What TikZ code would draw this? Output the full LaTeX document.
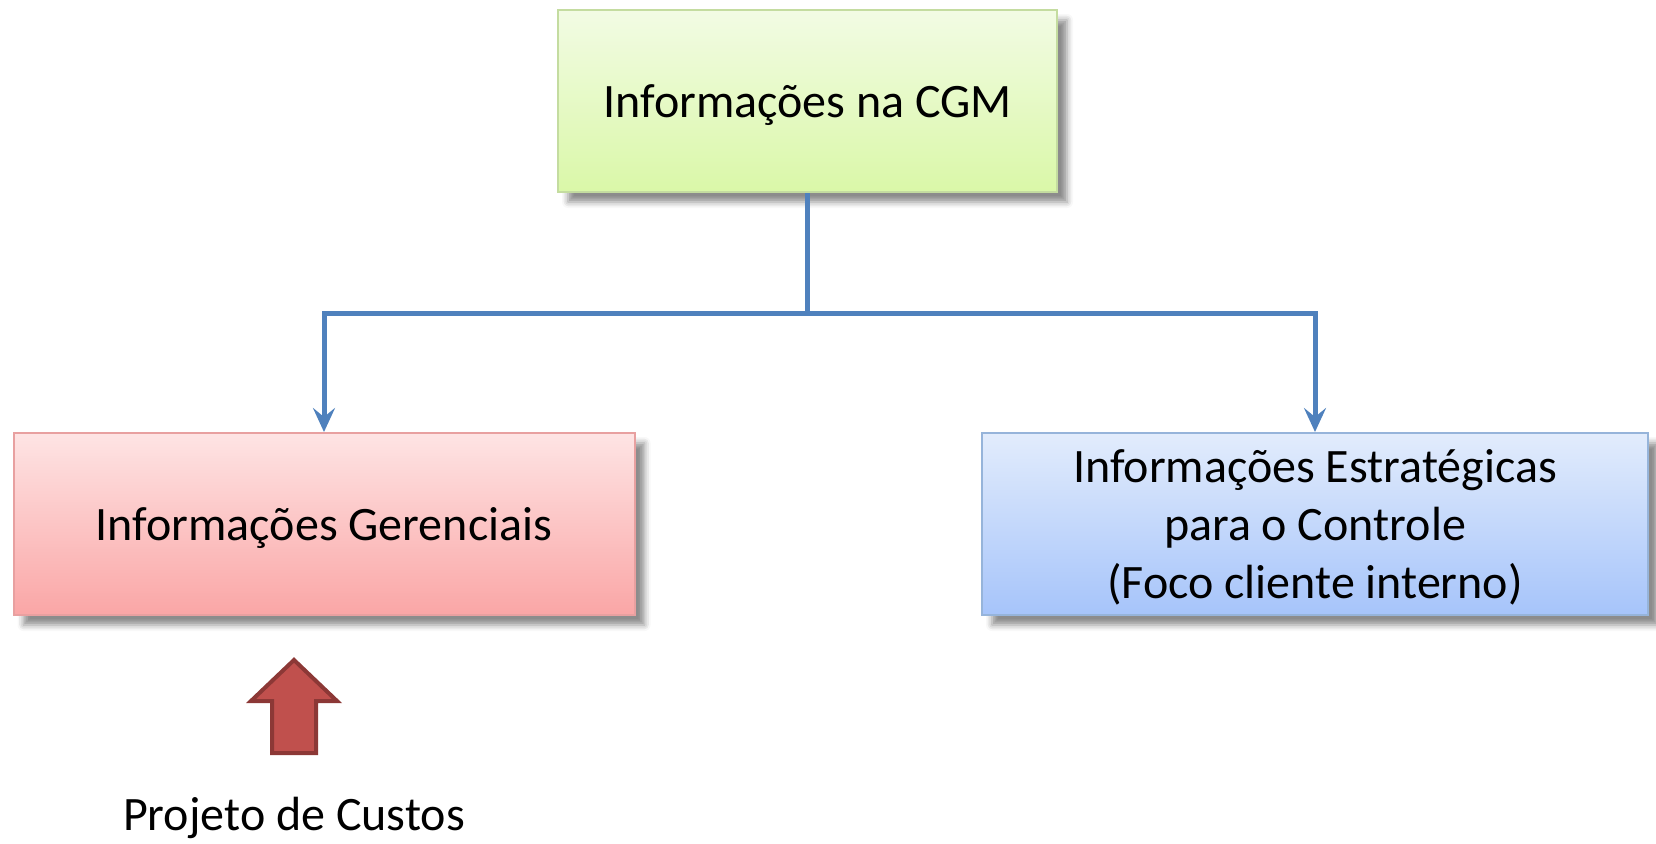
\documentclass[tikz,border=0pt]{standalone}
\usepackage{fontspec}
\setmainfont{Carlito}
\usetikzlibrary{shadows.blur}
\usetikzlibrary{arrows.meta}
\usepackage{xcolor}

\definecolor{cgmtop}{RGB}{242,251,228}
\definecolor{cgmbot}{RGB}{218,248,168}
\definecolor{cgmline}{RGB}{196,220,160}
\definecolor{gertop}{RGB}{254,228,228}
\definecolor{gerbot}{RGB}{250,166,166}
\definecolor{gerline}{RGB}{232,160,160}
\definecolor{esttop}{RGB}{226,236,252}
\definecolor{estbot}{RGB}{166,196,250}
\definecolor{estline}{RGB}{150,180,218}
\definecolor{linkblue}{RGB}{79,129,189}
\definecolor{arrowfill}{RGB}{192,80,77}
\definecolor{arrowline}{RGB}{140,56,54}

\tikzset{
  infobox/.style={rectangle, minimum height=182pt, line width=2pt, align=center,
    inner sep=0pt, text depth=0pt, font=\fontsize{48}{58}\selectfont,
    blur shadow={shadow xshift=10pt, shadow yshift=-10pt, shadow blur radius=6pt, shadow opacity=45}},
  link/.style={draw=linkblue, line width=5pt, -{Stealth[length=24pt, width=22pt, inset=9pt]}},
}

\begin{document}
\begin{tikzpicture}[x=1pt,y=1pt,yscale=-1,xscale=1]
\useasboundingbox (0,0) rectangle (1656,843);

% Text Node
\node [infobox, minimum width=499pt, draw=cgmline, top color=cgmtop, bottom color=cgmbot] (cgm) at (807.5,101) {Informações na CGM};
% Text Node
\node [infobox, minimum width=621pt, draw=gerline, top color=gertop, bottom color=gerbot] (ger) at (324,524) {Informações Gerenciais};
% Text Node
\node [infobox, minimum width=666pt, draw=estline, top color=esttop, bottom color=estbot] (est) at (1315,524) {Informações Estratégicas\\para o Controle\\(Foco cliente interno)};

%Straight Lines
\coordinate (split) at (807.5,313);
\draw [draw=linkblue, line width=5pt] (cgm.south) -- (split);
\draw [link] (split) -| (ger.north);
\draw [link] (split) -| (est.north);

%Shape: Up Arrow
\draw [line width=4pt, draw=arrowline, fill=arrowfill, line join=miter] (294,660) -- (337,701) -- (316,701) -- (316,753) -- (272,753) -- (272,701) -- (251,701) -- cycle;

% Text Node
\node [font=\fontsize{48}{58}\selectfont, inner sep=0pt] (custos) at (294,818) {Projeto de Custos};

\end{tikzpicture}
\end{document}
